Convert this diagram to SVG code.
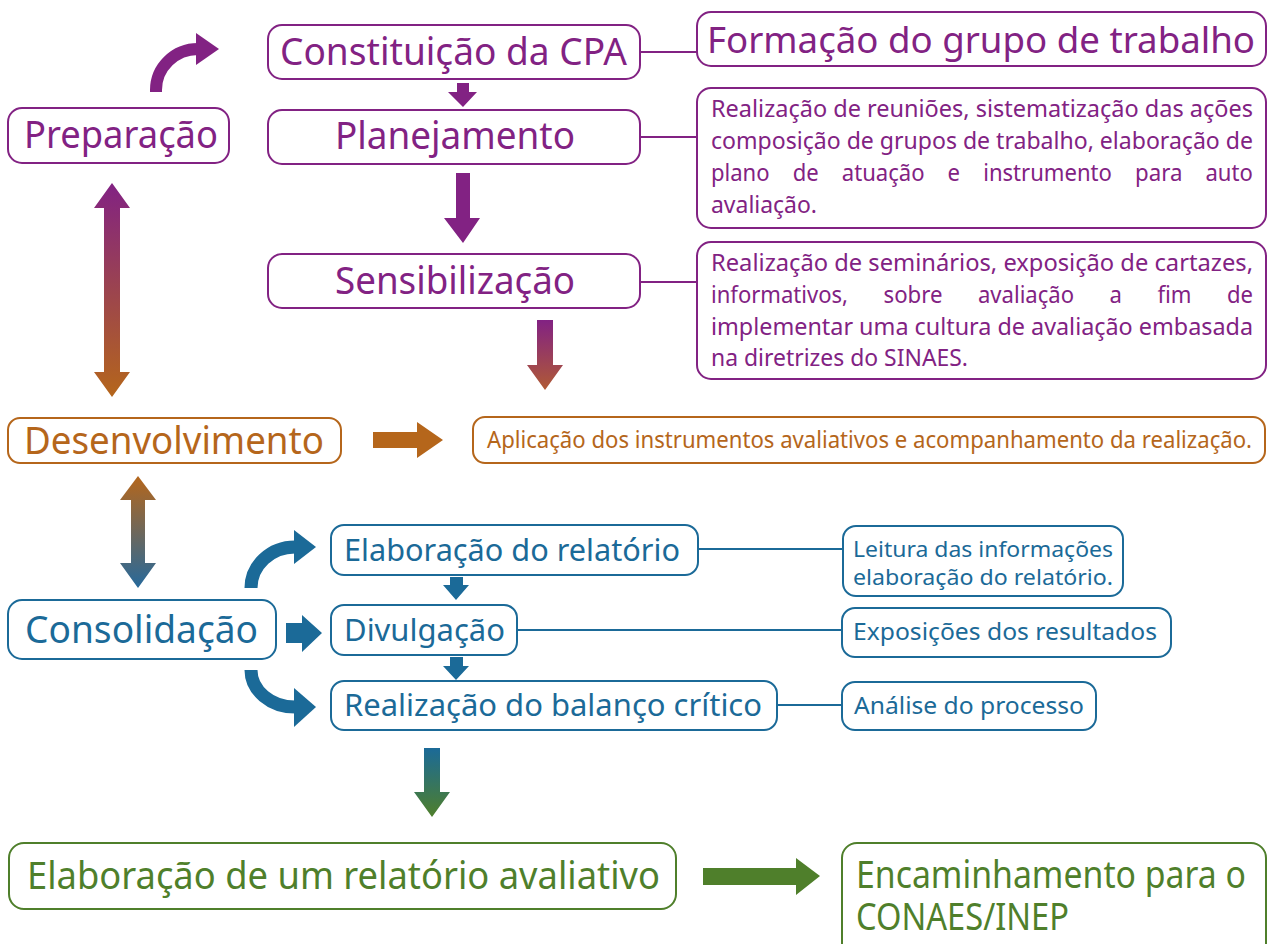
<svg xmlns="http://www.w3.org/2000/svg" width="1268" height="944" viewBox="0 0 1268 944">
<defs>
<style>
text{font-family:"Noto Sans","Open Sans","DejaVu Sans",sans-serif;}
.bp{fill:#fff;stroke:#822283;stroke-width:2;}
.bo{fill:#fff;stroke:#b5661b;stroke-width:2;}
.bb{fill:#fff;stroke:#1b6a98;stroke-width:2;}
.bg{fill:#fff;stroke:#4f7f2b;stroke-width:2;}
.tp{fill:#822283;}
.to{fill:#b5661b;}
.tb{fill:#1b6a98;}
.tg{fill:#4f7f2b;}
.big{font-size:38px;}
.mid{font-size:31px;}
.sm{font-size:23px;}
.xs{font-size:22px;}
.lp{stroke:#822283;stroke-width:2;fill:none;}
.lb{stroke:#1b6a98;stroke-width:2;fill:none;}
</style>
<linearGradient id="gPD" gradientUnits="userSpaceOnUse" x1="0" y1="183" x2="0" y2="397">
<stop offset="0" stop-color="#822283"/><stop offset="1" stop-color="#b5661b"/>
</linearGradient>
<linearGradient id="gS" gradientUnits="userSpaceOnUse" x1="0" y1="320" x2="0" y2="390">
<stop offset="0" stop-color="#822283"/><stop offset="1" stop-color="#b05a35"/>
</linearGradient>
<linearGradient id="gDC" gradientUnits="userSpaceOnUse" x1="0" y1="476" x2="0" y2="587">
<stop offset="0" stop-color="#b5661b"/><stop offset="1" stop-color="#28699a"/>
</linearGradient>
<linearGradient id="gBG" gradientUnits="userSpaceOnUse" x1="0" y1="748" x2="0" y2="817">
<stop offset="0" stop-color="#1b6a98"/><stop offset="1" stop-color="#4f7f2b"/>
</linearGradient>
</defs>
<rect width="1268" height="944" fill="#fff"/>

<g id="connectors">
<line class="lp" x1="640" y1="52" x2="697" y2="52"/>
<line class="lp" x1="640" y1="137" x2="697" y2="137"/>
<line class="lp" x1="640" y1="282" x2="697" y2="282"/>
<line class="lb" x1="698" y1="549" x2="843" y2="549"/>
<line class="lb" x1="517" y1="630" x2="842" y2="630"/>
<line class="lb" x1="777" y1="705" x2="842" y2="705"/>
<path d="M156,92 L156,90 A42,41 0 0 1 198,49" fill="none" stroke="#822283" stroke-width="12"/>
<polygon points="196,33 219,49 196,65" fill="#822283"/>
<polygon points="457,83 469,83 469,92 477,92 463,107 448,92 457,92" fill="#822283"/>
<polygon points="456,173 470,173 470,218 480,218 463,243 444,218 456,218" fill="#822283"/>
<polygon points="112,183 130,208 120,208 120,372 130,372 112,397 94,372 104,372 104,208 94,208" fill="url(#gPD)"/>
<polygon points="537,320 553,320 553,365 563,365 545,390 527,365 537,365" fill="url(#gS)"/>
<polygon points="373,432 417,432 417,422 443,440 417,458 417,448 373,448" fill="#b5661b"/>
<polygon points="138,476 156,500 145,500 145,563 156,563 138,588 120,563 131,563 131,500 120,500" fill="url(#gDC)"/>
<path d="M251,588 A44,41 0 0 1 295,547" fill="none" stroke="#1b6a98" stroke-width="13"/>
<polygon points="294,530 316,547 294,564" fill="#1b6a98"/>
<path d="M251,670 A44,37 0 0 0 295,707" fill="none" stroke="#1b6a98" stroke-width="13"/>
<polygon points="294,688 316,707 294,727" fill="#1b6a98"/>
<polygon points="286,623 302,623 302,615 322,633 302,652 302,643 286,643" fill="#1b6a98"/>
<polygon points="450,577 463,577 463,585 469,585 456,600 443,585 450,585" fill="#1b6a98"/>
<polygon points="450,657 463,657 463,666 469,666 456,680 443,666 450,666" fill="#1b6a98"/>
<polygon points="424,748 440,748 440,792 450,792 432,817 414,792 424,792" fill="url(#gBG)"/>
<polygon points="703,868 796,868 796,858 820,876 796,895 796,885 703,885" fill="#4f7f2b"/>
</g>

<g id="n-constituicao">
<rect class="bp" x="268" y="25" width="372" height="54" rx="14"/>
<text class="tp big" x="280" y="65" textLength="347" lengthAdjust="spacingAndGlyphs">Constituição da CPA</text>
</g>
<g id="n-formacao">
<rect class="bp" x="697" y="12" width="569" height="54" rx="14"/>
<text class="tp" font-size="37" x="707" y="53" textLength="548" lengthAdjust="spacingAndGlyphs">Formação do grupo de trabalho</text>
</g>
<g id="n-preparacao">
<rect class="bp" x="8" y="108" width="221" height="55" rx="14"/>
<text class="tp big" x="24" y="148" textLength="194" lengthAdjust="spacingAndGlyphs">Preparação</text>
</g>
<g id="n-planejamento">
<rect class="bp" x="268" y="110" width="372" height="54" rx="14"/>
<text class="tp big" x="335" y="149" textLength="240" lengthAdjust="spacingAndGlyphs">Planejamento</text>
</g>
<g id="n-planejamento-desc">
<rect class="bp" x="697" y="88" width="569" height="140" rx="14"/>
<text class="tp sm" x="711" y="117" textLength="542" lengthAdjust="spacingAndGlyphs">Realização de reuniões, sistematização das ações</text>
<text class="tp sm" x="711" y="149" textLength="542" lengthAdjust="spacingAndGlyphs">composição de grupos de trabalho, elaboração de</text>
<text class="tp sm" x="711" y="181" textLength="58.6" lengthAdjust="spacingAndGlyphs">plano</text>
<text class="tp sm" x="792.7" y="181" textLength="26" lengthAdjust="spacingAndGlyphs">de</text>
<text class="tp sm" x="841.8" y="181" textLength="82.7" lengthAdjust="spacingAndGlyphs">atuação</text>
<text class="tp sm" x="947.6" y="181" textLength="12.5" lengthAdjust="spacingAndGlyphs">e</text>
<text class="tp sm" x="983.2" y="181" textLength="128.7" lengthAdjust="spacingAndGlyphs">instrumento</text>
<text class="tp sm" x="1135" y="181" textLength="47.4" lengthAdjust="spacingAndGlyphs">para</text>
<text class="tp sm" x="1205.5" y="181" textLength="47.3" lengthAdjust="spacingAndGlyphs">auto</text>
<text class="tp sm" x="711" y="213" textLength="106" lengthAdjust="spacingAndGlyphs">avaliação.</text>
</g>
<g id="n-sensibilizacao">
<rect class="bp" x="268" y="254" width="372" height="54" rx="14"/>
<text class="tp big" x="335" y="294" textLength="240" lengthAdjust="spacingAndGlyphs">Sensibilização</text>
</g>
<g id="n-sensibilizacao-desc">
<rect class="bp" x="697" y="242" width="569" height="137" rx="14"/>
<text class="tp sm" x="711" y="271" textLength="542" lengthAdjust="spacingAndGlyphs">Realização de seminários, exposição de cartazes,</text>
<text class="tp sm" x="711" y="303" textLength="137" lengthAdjust="spacingAndGlyphs">informativos,</text>
<text class="tp sm" x="883.5" y="303" textLength="59" lengthAdjust="spacingAndGlyphs">sobre</text>
<text class="tp sm" x="978" y="303" textLength="96" lengthAdjust="spacingAndGlyphs">avaliação</text>
<text class="tp sm" x="1109.5" y="303" textLength="12.4" lengthAdjust="spacingAndGlyphs">a</text>
<text class="tp sm" x="1157.5" y="303" textLength="34" lengthAdjust="spacingAndGlyphs">fim</text>
<text class="tp sm" x="1227" y="303" textLength="26" lengthAdjust="spacingAndGlyphs">de</text>
<text class="tp sm" x="711" y="335" textLength="542" lengthAdjust="spacingAndGlyphs">implementar uma cultura de avaliação embasada</text>
<text class="tp sm" x="711" y="366" textLength="257" lengthAdjust="spacingAndGlyphs">na diretrizes do SINAES.</text>
</g>
<g id="n-desenvolvimento">
<rect class="bo" x="8" y="418" width="333" height="45" rx="12"/>
<text class="to big" x="24" y="454" textLength="300" lengthAdjust="spacingAndGlyphs">Desenvolvimento</text>
</g>
<g id="n-aplicacao">
<rect class="bo" x="473" y="417" width="792" height="46" rx="12"/>
<text class="to sm" x="487" y="448" textLength="765" lengthAdjust="spacingAndGlyphs">Aplicação dos instrumentos avaliativos e acompanhamento da realização.</text>
</g>
<g id="n-consolidacao">
<rect class="bb" x="8" y="600" width="268" height="59" rx="14"/>
<text class="tb big" x="25" y="643" textLength="233" lengthAdjust="spacingAndGlyphs">Consolidação</text>
</g>
<g id="n-elaboracao-relatorio">
<rect class="bb" x="331" y="525" width="367" height="50" rx="13"/>
<text class="tb mid" x="344" y="561" textLength="336" lengthAdjust="spacingAndGlyphs">Elaboração do relatório</text>
</g>
<g id="n-leitura">
<rect class="bb" x="843" y="526" width="280" height="70" rx="13"/>
<text class="tb xs" x="853" y="557" textLength="260" lengthAdjust="spacingAndGlyphs">Leitura das informações</text>
<text class="tb xs" x="853" y="585" textLength="260" lengthAdjust="spacingAndGlyphs">elaboração do relatório.</text>
</g>
<g id="n-divulgacao">
<rect class="bb" x="331" y="605" width="186" height="50" rx="13"/>
<text class="tb mid" x="344" y="641" textLength="161" lengthAdjust="spacingAndGlyphs">Divulgação</text>
</g>
<g id="n-exposicoes">
<rect class="bb" x="842" y="608" width="329" height="49" rx="13"/>
<text class="tb sm" x="853" y="640" textLength="304" lengthAdjust="spacingAndGlyphs">Exposições dos resultados</text>
</g>
<g id="n-balanco">
<rect class="bb" x="331" y="681" width="446" height="49" rx="13"/>
<text class="tb mid" x="344" y="716" textLength="418" lengthAdjust="spacingAndGlyphs">Realização do balanço crítico</text>
</g>
<g id="n-analise">
<rect class="bb" x="842" y="682" width="254" height="48" rx="13"/>
<text class="tb sm" x="854" y="714" textLength="230" lengthAdjust="spacingAndGlyphs">Análise do processo</text>
</g>
<g id="n-relatorio-avaliativo">
<rect class="bg" x="9" y="843" width="667" height="66" rx="15"/>
<text class="tg big" x="27" y="889" textLength="633" lengthAdjust="spacingAndGlyphs">Elaboração de um relatório avaliativo</text>
</g>
<g id="n-encaminhamento">
<rect class="bg" x="842" y="843" width="424" height="120" rx="15"/>
<text class="tg big" x="856" y="888" textLength="390" lengthAdjust="spacingAndGlyphs">Encaminhamento para o</text>
<text class="tg big" x="856" y="930" textLength="213" lengthAdjust="spacingAndGlyphs">CONAES/INEP</text>
</g>
</svg>
